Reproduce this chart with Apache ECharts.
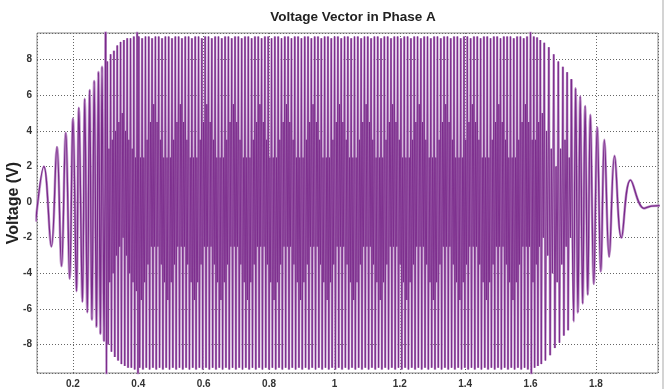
<!DOCTYPE html>
<html><head><meta charset="utf-8">
<script src="https://cdn.jsdelivr.net/npm/echarts@6/dist/echarts.min.js"></script>
<style>html,body{margin:0;padding:0;background:#fff}#c{width:669px;height:389px}</style>
</head><body><div id="c"></div>
<script>
// ---- data (time in s, voltage in V) ----
const titleText = 'Voltage Vector in Phase A';
const yName = 'Voltage (V)';

// onset: slow growing oscillation (peaks / troughs)
const onsetT = [0.086,0.111,0.134,0.151,0.165,0.178,0.190,0.200,0.211,0.218,0.229,0.236,0.244,0.251,0.258,0.265,0.272,0.278,0.284,0.289,0.295,0.300];
const onsetV = [-1.1,2.0,-2.5,3.1,-3.6,3.9,-4.3,4.7,-5.0,5.3,-5.6,5.8,-6.2,6.3,-6.6,6.8,-7.0,7.3,-7.4,7.6,-7.8,10];

// dense section, evenly sampled extrema from 0.300 s to 1.597 s (tenths of a volt)
const mainStart = 0.300, mainEnd = 1.597;
const mainV = [
100,-100,
79,-80,30,-45, 83,-84,35,-40, 85,-87,40,-30, 88,-89,45,-25, 90,-91,50,-20, 91,-92,40,-30, 92,-93,35,-40, 92,-93,30,-45, 93,-94,25,-50,
100,-100,
93,-93,25,-55, 92,-94,25,-45, 93,-93,35,-35, 93,-94,45,-25, 92,-93,55,-25, 93,-94,45,-25, 93,-93,35,-35, 92,-94,25,-45,
93,-93,25,-55, 93,-94,25,-45, 92,-93,35,-35, 93,-94,45,-25, 93,-93,55,-25, 92,-94,45,-25, 93,-93,35,-35, 93,-94,25,-45,
92,-93,25,-55, 93,-94,25,-45, 93,-93,35,-35, 92,-94,45,-25, 93,-93,55,-25, 93,-94,45,-25, 92,-93,35,-35, 93,-94,25,-45,
93,-93,25,-55, 92,-94,25,-45, 93,-93,35,-35, 93,-94,45,-25, 92,-93,55,-25, 93,-94,45,-25, 93,-93,35,-35, 92,-94,25,-45,
93,-93,25,-55, 93,-94,25,-45, 92,-93,35,-35, 93,-94,45,-25, 93,-93,55,-25, 92,-94,45,-25, 93,-93,35,-35, 93,-94,25,-45,
92,-93,25,-55, 93,-94,25,-45, 93,-93,35,-35, 92,-94,45,-25, 93,-93,55,-25, 93,-94,45,-25, 92,-93,35,-35, 93,-94,25,-45,
93,-93,25,-55, 92,-94,25,-45, 93,-93,35,-35, 93,-94,45,-25, 92,-93,55,-25, 93,-94,45,-25, 93,-93,35,-35, 92,-94,25,-45,
93,-93,25,-55, 93,-94,25,-45, 92,-93,35,-35, 93,-94,45,-25, 93,-93,55,-25, 92,-94,45,-25, 93,-93,35,-35, 93,-94,25,-45,
92,-93,25,-55, 93,-94,25,-45, 93,-93,35,-35, 92,-94,45,-25, 93,-93,55,-25, 93,-94,45,-25, 92,-93,35,-35, 93,-94,25,-45,
93,-93,25,-55, 92,-94,25,-45, 93,-93,35,-35, 93,-94,45,-25, 92,-93,55,-25, 93,-94,45,-25, 93,-93,35,-35, 92,-94,25,-45,
93,-93,25,-55, 93,-94,25,-45, 92,-93,35,-35, 93,-94,45,-25, 93,-93,55,-25, 92,-94,45,-25, 93,-93,35,-35, 93,-94,25,-45,
92,-93,25,-55, 93,-94,25,-45, 93,-93,35,-35, 92,-94,45,-25, 93,-93,55,-25, 93,-94,45,-25, 92,-93,35,-35, 93,-94,25,-45,
93,-93,25,-55, 92,-94,25,-45, 93,-93,35,-35, 93,-94,45,-25, 92,-93,55,-25, 93,-94,45,-25, 93,-93,35,-35, 92,-94,25,-45,
93,-93,25,-55, 93,-94,25,-45, 92,-93,35,-35, 93,-94,45,-25, 93,-93,55,-25, 92,-94,45,-25, 93,-93,35,-35, 93,-94,25,-45,
93,-93,25,-55, 92,-94,25,-45, 93,-93,35,-35, 93,-94,45,-25, 92,-93,55,-25, 93,-94,45,-25
];

// decay after 1.6 s (dense part)
const decayT = [1.597,1.600,1.6025,1.605,1.6075,
1.610,1.6125,1.615,1.6175, 1.620,1.6225,1.625,1.6275, 1.630,1.633,1.636,1.639,
1.642,1.6455,1.649,1.6525, 1.656,1.660,1.6635,1.667, 1.671,1.6745,1.678,1.6815,
1.685,1.6885,1.692,1.6955, 1.699,1.702,1.7055,1.709, 1.712,1.715,1.7185,1.722, 1.725];
const decayV = [-2.5,10,-10,3.5,-4.5,
9.3,-9.3,3.5,-3.5, 9.25,-9.2,4.5,-2.5, 9.1,-9.1,5.0,-2.0,
8.95,-8.9,4.0,-3.0, 8.7,-8.6,3.0,-4.0, 8.3,-8.2,2.0,-4.5,
7.9,-7.9,3.0,-3.5, 7.6,-7.5,3.5,-2.5, 7.3,-7.2,2.5,-2.0, 6.9];

// ringing tail
const tailT = [1.725,1.7315,1.738,1.745,1.752,1.7595,1.767,1.775,1.783,1.7935,1.804,1.815,1.826,1.8405,1.857,1.878,1.906,1.947,1.970,1.995];
const tailV = [6.9,-6.7,6.4,-6.2,5.95,-5.7,5.4,-5.2,4.9,-4.6,4.2,-3.9,3.5,-3.07,2.6,-2.0,1.24,-0.35,-0.22,-0.2];

// ---- build ----
const zip = (t, v) => t.map((x, i) => [x, v[i]]);
const step = (mainEnd - mainStart) / (mainV.length - 1);
const mainData = mainV.map((v, i) => [mainStart + i * step, v / 10]);
const onsetData = zip(onsetT, onsetV);
const decayData = zip(decayT, decayV);
const tailData = zip(tailT, tailV);

const dark = '#7a2a8b', light = '#c39ccd';
const chart = echarts.init(document.getElementById('c'), null, {renderer: 'canvas'});
const lbl = {color: '#333', fontSize: 10, fontWeight: 'bold', fontFamily: 'Liberation Sans, Arial, sans-serif'};
const split = {show: true, lineStyle: {color: '#666', type: [1, 2], width: 1}};
const ln = (data, color, width, smooth) => ({type: 'line', data, symbol: 'none', clip: true, smooth: smooth || false,
  lineStyle: {color, width}, sampling: null, silent: true});
chart.setOption({
  animation: false,
  title: {text: titleText, left: 348, textAlign: 'center', top: 5,
    textStyle: {fontSize: 13.5, fontWeight: 'bold', color: '#222', fontFamily: 'Liberation Sans Narrow, Liberation Sans, Arial, sans-serif'}},
  grid: {left: 37, right: 11, top: 33, bottom: 16, show: true, borderColor: '#888', borderWidth: 1, backgroundColor: 'transparent', containLabel: false, outerBoundsMode: 'none'},
  xAxis: {type: 'value', min: 0.09, max: 1.99, splitNumber: 9, minInterval: 0.2, maxInterval: 0.2,
    axisLine: {show: false}, axisTick: {show: false},
    axisLabel: Object.assign({margin: 6, showMinLabel: false, showMaxLabel: false}, lbl),
    splitLine: split},
  yAxis: {type: 'value', min: -9.6, max: 9.5, splitNumber: 9, minInterval: 2, maxInterval: 2,
    name: yName, nameLocation: 'middle', nameGap: 15, nameRotate: 90, nameMoveOverlap: false,
    nameTextStyle: {fontSize: 16, fontWeight: 'bold', color: '#222', fontFamily: 'Liberation Sans, Arial, sans-serif'},
    axisLine: {show: false}, axisTick: {show: false},
    axisLabel: Object.assign({margin: 5, showMinLabel: false, showMaxLabel: false}, lbl),
    splitLine: split},
  series: [
    ln(onsetData, light, 2.6, 0.4),
    ln(mainData, light, 2.4),
    ln(decayData, light, 2.4),
    ln(tailData, light, 2.6, 0.4),
    ln(onsetData, dark, 1.3, 0.4),
    ln(mainData, dark, 0.9),
    ln(decayData, dark, 0.9),
    ln(tailData, dark, 1.3, 0.4)
  ],
  graphic: [{type: 'rect', shape: {x: 662, y: 0, width: 2, height: 389}, style: {fill: '#d4d4d4'}, silent: true}]
});
</script></body></html>
